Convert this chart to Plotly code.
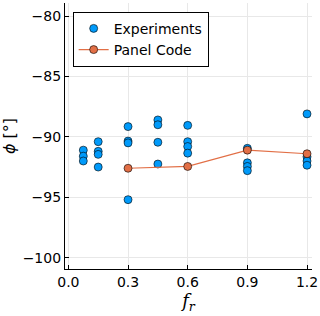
import plotly.graph_objects as go

exp_x = [0.075, 0.075, 0.075,
         0.15, 0.15, 0.15, 0.15,
         0.3, 0.3, 0.3, 0.3,
         0.45, 0.45, 0.45, 0.45,
         0.6, 0.6, 0.6, 0.6,
         0.9, 0.9, 0.9, 0.9,
         1.2, 1.2, 1.2, 1.2]
exp_y = [-91.1, -91.6, -92.0,
         -90.4, -91.2, -91.45, -92.5,
         -89.15, -90.35, -90.5, -95.2,
         -88.6, -89.0, -90.45, -92.25,
         -89.05, -90.4, -90.8, -91.35,
         -90.95, -92.15, -92.45, -92.8,
         -88.1, -91.65, -92.0, -92.35]

panel_x = [0.3, 0.6, 0.9, 1.2]
panel_y = [-92.6, -92.45, -91.1, -91.4]

x_ticks = [0.0, 0.3, 0.6, 0.9, 1.2]
x_ticklabels = ["0.0", "0.3", "0.6", "0.9", "1.2"]
y_ticks = [-100, -95, -90, -85, -80]
y_ticklabels = ["\u2212100", "\u221295", "\u221290", "\u221285", "\u221280"]

fig = go.Figure()
fig.add_trace(go.Scatter(
    x=exp_x, y=exp_y, mode="markers", name="Experiments",
    marker=dict(color="#009AFA", size=8, line=dict(color="black", width=0.6)),
))
fig.add_trace(go.Scatter(
    x=panel_x, y=panel_y, mode="lines+markers", name="Panel Code",
    line=dict(color="#E26F46", width=1.2),
    marker=dict(color="#E26F46", size=8, line=dict(color="black", width=0.6)),
))

axis_common = dict(
    showgrid=True, gridcolor="#e8e8e8", gridwidth=1,
    showline=True, linecolor="black", linewidth=1.2,
    ticks="inside", ticklen=4, tickcolor="black", tickwidth=1,
    zeroline=False, mirror=False,
    tickfont=dict(family="DejaVu Sans", size=14, color="black"),
)

fig.update_layout(
    width=320, height=316,
    margin=dict(l=65, r=8, t=3, b=47),
    paper_bgcolor="white", plot_bgcolor="white",
    showlegend=True,
    legend=dict(
        x=0.031, y=0.967, xanchor="left", yanchor="top",
        bgcolor="white", bordercolor="black", borderwidth=1,
        font=dict(family="DejaVu Sans", size=14, color="black"),
        tracegroupgap=0, itemwidth=30,
    ),
    xaxis=dict(
        range=[-0.017, 1.225], tickvals=x_ticks, ticktext=x_ticklabels,
        title=dict(text="<i>f</i><sub><i>r</i></sub>", standoff=4,
                   font=dict(family="DejaVu Serif", size=18, color="black")),
        **axis_common,
    ),
    yaxis=dict(
        range=[-100.94, -78.92], tickvals=y_ticks, ticktext=y_ticklabels,
        title=dict(text="<i>\u03d5</i> [\u00b0]", standoff=6,
                   font=dict(family="DejaVu Sans", size=16, color="black")),
        **axis_common,
    ),
)

fig.write_html("out.html", config={"displayModeBar": False},
               post_script="document.body.style.margin='0px';document.body.style.padding='0px';")
